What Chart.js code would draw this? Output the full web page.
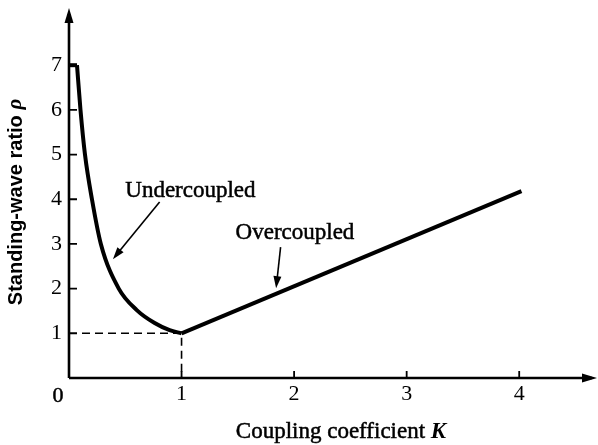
<!DOCTYPE html>
<html>
<head>
<meta charset="utf-8">
<script src="https://cdn.jsdelivr.net/npm/chart.js@4.4.1/dist/chart.umd.min.js"></script>
<style>
  body { margin: 0; background: #fff; }
  canvas { display: block; }
</style>
</head>
<body>
<canvas id="swrChart" width="598" height="445"></canvas>
<script>
// undercoupled branch (K < 1)
const underK   = [0.071, 0.102, 0.142, 0.204, 0.283, 0.442, 0.602, 0.761, 0.894, 1.0];
const underRho = [7,     6,     5,     4,     3,     2,     1.52,  1.23,  1.07,  1.0];
// flat cap at the top of the curve
const capK   = [0, 0.071];
const capRho = [7, 7];
// overcoupled branch (K > 1)
const overK   = [1, 4.02];
const overRho = [1, 4.18];
// dashed guide to the matched point
const guideK   = [0, 1, 1];
const guideRho = [1, 1, 0];

const xTicks = [1, 2, 3, 4];
const yTicks = [1, 2, 3, 4, 5, 6, 7];

const SERIF = '"Liberation Serif", "Times New Roman", serif';

function pts(xs, ys) {
    return xs.map((x, i) => ({ x: x, y: ys[i] }));
}

function arrowHead(ctx, x1, y1, x2, y2, len, half) {
    let a = Math.atan2(y2 - y1, x2 - x1);
    ctx.beginPath();
    ctx.moveTo(x2, y2);
    ctx.lineTo(x2 - len * Math.cos(a) + half * Math.sin(a), y2 - len * Math.sin(a) - half * Math.cos(a));
    ctx.lineTo(x2 - len * Math.cos(a) - half * Math.sin(a), y2 - len * Math.sin(a) + half * Math.cos(a));
    ctx.closePath();
    ctx.fill();
}

// text with a hairline outline so it reads as heavy as the printed labels
function heavyText(ctx, s, x, y) {
    ctx.fillText(s, x, y);
    ctx.lineWidth = 0.5;
    ctx.strokeText(s, x, y);
}

// axes with arrows, tick marks, axis titles and the two callouts
const extras = {
    id: 'extras',
    afterDatasetsDraw(chart) {
        let ctx = chart.ctx;
        let xs = chart.scales.x, ys = chart.scales.y;
        let area = chart.chartArea;
        let ox = xs.getPixelForValue(0), oy = ys.getPixelForValue(0);
        ctx.save();
        ctx.strokeStyle = '#000';
        ctx.fillStyle = '#000';
        ctx.lineWidth = 2.6;

        // axes
        ctx.beginPath();
        ctx.moveTo(ox, oy);
        ctx.lineTo(ox, area.top + 6);
        ctx.moveTo(ox, oy);
        ctx.lineTo(area.right - 6, oy);
        ctx.stroke();
        arrowHead(ctx, ox, oy, ox, area.top, 15, 4.5);
        arrowHead(ctx, ox, oy, area.right - 1, oy, 15, 4.5);

        // tick marks pointing into the plot
        ctx.lineWidth = 1.8;
        ctx.beginPath();
        yTicks.forEach(v => {
            let py = ys.getPixelForValue(v);
            ctx.moveTo(ox, py);
            ctx.lineTo(ox + 8, py);
        });
        xTicks.forEach(v => {
            let px = xs.getPixelForValue(v);
            ctx.moveTo(px, oy);
            ctx.lineTo(px, oy - 7);
        });
        ctx.stroke();

        // origin label
        ctx.font = '22px ' + SERIF;
        ctx.textAlign = 'center';
        ctx.textBaseline = 'alphabetic';
        heavyText(ctx, '0', ox - 11, oy + 24);

        // x title with italic K
        let t1 = 'Coupling coefficient ';
        ctx.font = '23px ' + SERIF;
        let w1 = ctx.measureText(t1).width;
        ctx.font = 'italic bold 23px ' + SERIF;
        let w2 = ctx.measureText('K').width;
        let cx = 341, by = 438;
        ctx.textAlign = 'left';
        ctx.font = '23px ' + SERIF;
        heavyText(ctx, t1, cx - (w1 + w2) / 2, by);
        ctx.font = 'italic bold 23px ' + SERIF;
        ctx.fillText('K', cx - (w1 + w2) / 2 + w1, by);

        // y title, rotated
        ctx.save();
        ctx.translate(16, 202);
        ctx.rotate(-Math.PI / 2);
        ctx.textBaseline = 'middle';
        ctx.font = 'bold 20px "Liberation Sans", Arial, sans-serif';
        let s1 = 'Standing-wave ratio ';
        let v1 = ctx.measureText(s1).width;
        ctx.font = 'italic bold 21px "Liberation Serif", serif';
        let v2 = ctx.measureText('\u03c1').width;
        ctx.textAlign = 'left';
        ctx.font = 'bold 20px "Liberation Sans", Arial, sans-serif';
        ctx.fillText(s1, -(v1 + v2) / 2, 0);
        ctx.font = 'italic bold 21px "Liberation Serif", serif';
        ctx.fillText('\u03c1', -(v1 + v2) / 2 + v1, 0);
        ctx.restore();

        // callouts
        ctx.font = '23px ' + SERIF;
        ctx.textAlign = 'left';
        ctx.textBaseline = 'alphabetic';
        heavyText(ctx, 'Undercoupled', xs.getPixelForValue(0.50), ys.getPixelForValue(4.05));
        heavyText(ctx, 'Overcoupled', xs.getPixelForValue(1.48), ys.getPixelForValue(3.1));

        ctx.lineWidth = 1.6;
        let a = [xs.getPixelForValue(0.805), ys.getPixelForValue(3.94), xs.getPixelForValue(0.39), ys.getPixelForValue(2.66)];
        let b = [xs.getPixelForValue(1.88), ys.getPixelForValue(2.93), xs.getPixelForValue(1.84), ys.getPixelForValue(2.01)];
        [a, b].forEach(p => {
            ctx.beginPath();
            ctx.moveTo(p[0], p[1]);
            ctx.lineTo(p[2] + (p[0] - p[2]) * 0.15, p[3] + (p[1] - p[3]) * 0.15);
            ctx.stroke();
            arrowHead(ctx, p[0], p[1], p[2], p[3], 12, 4);
        });
        ctx.restore();
    }
};

new Chart(document.getElementById('swrChart'), {
    type: 'scatter',
    data: {
        datasets: [
            {
                data: pts(guideK, guideRho),
                showLine: true,
                borderColor: '#000',
                borderWidth: 1.6,
                borderDash: [8, 5],
                pointRadius: 0
            },
            {
                data: pts(capK, capRho),
                showLine: true,
                borderColor: '#000',
                borderWidth: 4,
                pointRadius: 0
            },
            {
                data: pts(underK, underRho),
                showLine: true,
                borderColor: '#000',
                borderWidth: 4,
                cubicInterpolationMode: 'monotone',
                pointRadius: 0
            },
            {
                data: pts(overK, overRho),
                showLine: true,
                borderColor: '#000',
                borderWidth: 4,
                pointRadius: 0
            }
        ]
    },
    options: {
        responsive: false,
        animation: false,
        layout: { padding: { top: 8, right: 0, left: 0, bottom: 0 } },
        plugins: { legend: { display: false }, tooltip: { enabled: false } },
        scales: {
            x: {
                type: 'linear',
                min: 0,
                max: 4.7,
                afterBuildTicks: s => { s.ticks = xTicks.map(v => ({ value: v })); },
                afterFit: s => { s.height = 67; s.paddingLeft = 0; s.paddingRight = 0; },
                grid: { display: false, drawTicks: false },
                border: { display: false },
                ticks: { color: '#000', padding: 3, maxRotation: 0, font: { family: SERIF, size: 22 } }
            },
            y: {
                min: 0,
                max: 8.28,
                afterBuildTicks: s => { s.ticks = yTicks.map(v => ({ value: v })); },
                afterFit: s => { s.width = 69; s.paddingTop = 0; s.paddingBottom = 0; },
                grid: { display: false, drawTicks: false },
                border: { display: false },
                ticks: { color: '#000', padding: 7, font: { family: SERIF, size: 22 } }
            }
        }
    },
    plugins: [extras]
});
</script>
</body>
</html>
